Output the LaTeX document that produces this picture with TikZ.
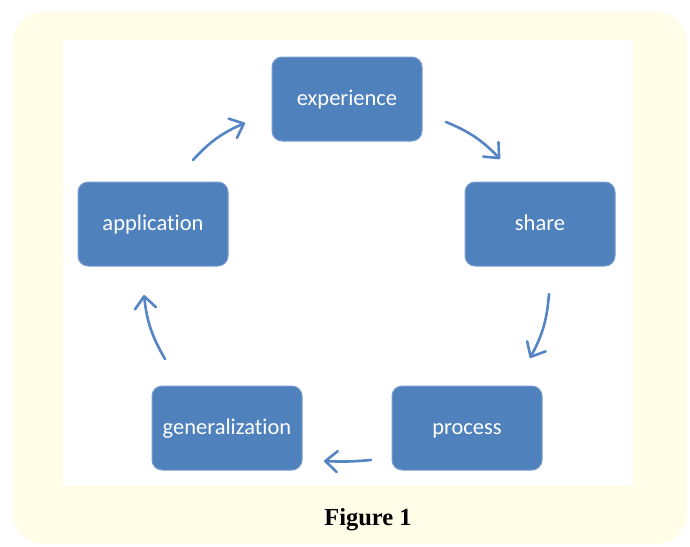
\documentclass[tikz,border=0pt]{standalone}
\usepackage{fontspec}
\setmainfont{Carlito}[Ligatures={NoCommon}]
\newfontfamily\capfont{Liberation Serif}
\usetikzlibrary{arrows.meta}
\definecolor{cream}{HTML}{FFFCE8}
\definecolor{boxblue}{HTML}{4F81BD}
\definecolor{boxedge}{HTML}{7A9FD0}
\definecolor{arrowblue}{HTML}{5585C5}
\begin{document}
\begin{tikzpicture}[x=1pt,y=-1pt,
  stagebox/.style={draw=boxedge, line width=1pt, fill=boxblue, rounded corners=10pt,
    minimum width=150pt, minimum height=84pt, inner sep=0pt,
    text height=17pt, text depth=3.5pt,
    text=white, font=\fontsize{22.5}{24}\selectfont},
  cyclearrow/.style={draw=arrowblue, line width=2.6pt, line cap=round,
    -{Straight Barb[length=12pt,width=21pt,line width=2.6pt,round]}}]
  \useasboundingbox (0,0) rectangle (690,546);
  % cream frame and white panel
  \fill[cream, rounded corners=30pt] (13,12) rectangle (687,544);
  \fill[white] (63,40) rectangle (633,486);
  % stages
  \node[stagebox] (exp) at (347,99) {experience};
  \node[stagebox] (share) at (540,224) {share};
  \node[stagebox] (proc) at (467,428) {process};
  \node[stagebox] (gen) at (227,428) {generalization};
  \node[stagebox] (app) at (153,224) {application};
  % arrow end points
  \coordinate (a1s) at (446,122); \coordinate (a1e) at (500,159);
  \coordinate (a2s) at (549,294); \coordinate (a2e) at (530,358);
  \coordinate (a3s) at (371,460); \coordinate (a3e) at (324,461);
  \coordinate (a4s) at (165,359); \coordinate (a4e) at (144,295);
  \coordinate (a5s) at (193,160); \coordinate (a5e) at (245,123);
  % cycle arrows
  \draw[cyclearrow] (a1s) to[bend left=12] (a1e);
  \draw[cyclearrow] (a2s) to[bend left=12] (a2e);
  \draw[cyclearrow] (a3s) to[bend left=4] (a3e);
  \draw[cyclearrow] (a4s) to[bend left=12] (a4e);
  \draw[cyclearrow] (a5s) to[bend left=12] (a5e);
  % caption
  \node[font=\capfont\bfseries\fontsize{24.5}{26}\selectfont, text=black] (cap) at (368,520) {Figure 1};
\end{tikzpicture}
\end{document}
